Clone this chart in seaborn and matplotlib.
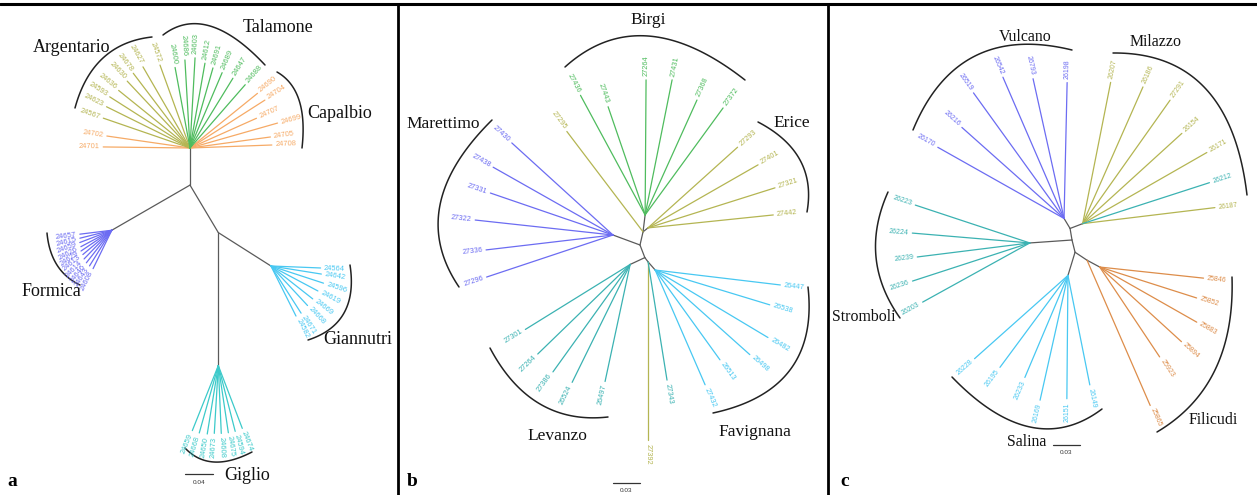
import numpy as np
import pandas as pd
import matplotlib.pyplot as plt
import seaborn as sns

sns.set_theme(style="white")
plt.rcParams["font.family"] = ["Liberation Sans", "DejaVu Sans"]

# ----------------------------------------------------------------------
# Panel a - Tuscan archipelago (branch lengths in substitutions/site)
# ----------------------------------------------------------------------
capalbio_ids = ["24701", "24702", "24690", "24704", "24707", "24699", "24705", "24708"]
capalbio_ang = [179.3, 171.8, 39.0, 32.6, 24.1, 15.9, 7.8, 2.1]
capalbio_len = [0.124, 0.120, 0.124, 0.127, 0.104, 0.130, 0.116, 0.117]

argentario_ids = ["24567", "24623", "24593", "24636", "24630", "24678", "24627", "24572"]
argentario_ang = [161.0, 153.7, 147.5, 141.1, 133.2, 127.2, 120.1, 109.9]
argentario_len = [0.131, 0.133, 0.136, 0.131, 0.131, 0.134, 0.134, 0.126]

talamone_ids = ["24600", "24686", "24603", "24612", "24691", "24689", "24647", "24688"]
talamone_ang = [100.5, 93.3, 86.8, 80.0, 74.0, 66.9, 58.4, 48.9]
talamone_len = [0.117, 0.126, 0.129, 0.123, 0.119, 0.117, 0.117, 0.120]

formica_ids = ["24657", "24615", "24659", "24626", "24629", "24613",
               "24614", "24646", "24643", "24608"]
formica_ang = [187, 194, 201, 208, 214, 220, 226, 232, 238, 244]
formica_len = [0.046, 0.047, 0.049, 0.050, 0.053, 0.054, 0.057, 0.059, 0.060, 0.061]

giannutri_ids = ["24564", "24642", "24596", "24619", "24669", "24668", "24671", "24582"]
giannutri_ang = [-2.3, -9.1, -18.1, -28.0, -38.2, -47.2, -57.4, -63.4]
giannutri_len = [0.071, 0.073, 0.079, 0.076, 0.076, 0.077, 0.080, 0.080]

giglio_ids = ["24659", "24668", "24650", "24673", "24608", "24675", "24594", "24674"]
giglio_ang = [-111.8, -105.8, -99.2, -93.4, -87.5, -81.5, -75.6, -69.1]
giglio_len = [0.100, 0.100, 0.099, 0.097, 0.097, 0.097, 0.097, 0.096]

# internal branches: (node, parent, angle, length)
tree_a_edges = [
    ("a1", "a0", -90.0, 0.053),
    ("formica", "a1", 210.0, 0.129),
    ("a2", "a1", -59.2, 0.079),
    ("giannutri", "a2", -32.4, 0.089),
    ("giglio", "a2", -90.0, 0.190),
]

# ----------------------------------------------------------------------
# Panel b - Egadi islands and western Sicily
# ----------------------------------------------------------------------
birgi_ids = ["27436", "27443", "27264", "27431", "27368", "27372"]
birgi_ang = [118.4, 108.9, 89.6, 78.7, 65.7, 53.9]
birgi_len = [0.151, 0.127, 0.150, 0.153, 0.140, 0.147]

erice_ids = ["27293", "27401", "27321", "27442"]
erice_ang = [42.0, 29.8, 17.5, 5.9]
erice_len = [0.134, 0.141, 0.148, 0.140]

marettimo_ids = ["27430", "27438", "27331", "27322", "27336", "27296"]
marettimo_ang = [137.7, 150.5, 161.1, 173.8, 186.7, 198.4]
marettimo_len = [0.152, 0.153, 0.144, 0.154, 0.142, 0.148]

favignana_ids = ["26447", "26538", "26482", "26498", "26513", "27432"]
favignana_ang = [-6.8, -16.9, -30.9, -41.8, -54.2, -66.5]
favignana_len = [0.140, 0.133, 0.146, 0.141, 0.123, 0.139]

levanzo_ids = ["27301", "27264", "27386", "26524", "26497"]
levanzo_ang = [211.8, 224.1, 234.3, 243.8, 257.9]
levanzo_len = [0.137, 0.143, 0.147, 0.146, 0.133]

# single tips sitting outside their own island cluster
erice_extra_ids = ["27295"]
erice_extra_ang = [127.2]
erice_extra_len = [0.140]
levanzo_extra_ids = ["27343"]
levanzo_extra_ang = [-80.9]
levanzo_extra_len = [0.133]
erice_south_ids = ["27392"]
erice_south_ang = [-90.0]
erice_south_len = [0.198]

tree_b_edges = [
    ("marettimo", "b0", 159.7, 0.032),
    ("bN", "b0", 77.0, 0.015),
    ("birgi", "bN", 83.0, 0.019),
    ("erice", "bN", 38.7, 0.007),
    ("bS", "b0", -69.0, 0.015),
    ("levanzo", "bS", 205.0, 0.018),
    ("bF", "bS", -53.0, 0.006),
    ("favignana", "bF", -48.8, 0.012),
]

# ----------------------------------------------------------------------
# Panel c - Aeolian islands and Milazzo
# ----------------------------------------------------------------------
vulcano_ids = ["26170", "26216", "26519", "26542", "26793", "26198"]
vulcano_ang = [150.6, 138.3, 125.8, 113.4, 102.5, 88.7]
vulcano_len = [0.161, 0.152, 0.172, 0.171, 0.159, 0.151]

milazzo_ids = ["26207", "26186", "27291", "26154", "26171", "26187"]
milazzo_ang = [78.8, 66.2, 54.7, 42.3, 29.8, 6.9]
milazzo_len = [0.160, 0.166, 0.168, 0.149, 0.159, 0.148]

stromboli_ids = ["26223", "26224", "26239", "26236", "26203"]
stromboli_ang = [161.7, 175.2, 187.1, 198.0, 208.9]
stromboli_len = [0.134, 0.131, 0.126, 0.137, 0.136]

salina_ids = ["26228", "26195", "26233", "26169", "26151", "26149"]
salina_ang = [221.7, 233.5, 247.1, 257.4, 269.5, 281.3]
salina_len = [0.139, 0.127, 0.123, 0.142, 0.137, 0.124]

filicudi_ids = ["25846", "25852", "25883", "25894", "25923"]
filicudi_ang = [-6.1, -17.7, -29.6, -42.4, -56.3]
filicudi_len = [0.116, 0.113, 0.124, 0.123, 0.120]

stromboli_extra_ids = ["26212"]
stromboli_extra_ang = [17.9]
stromboli_extra_len = [0.148]
filicudi_extra_ids = ["25865"]
filicudi_extra_ang = [-66.5]
filicudi_extra_len = [0.176]

tree_c_edges = [
    ("cN", "c0", 99.5, 0.013),
    ("vulcano", "cN", 121.0, 0.013),
    ("milazzo", "cN", 21.0, 0.015),
    ("stromboli", "c0", 184.0, 0.047),
    ("cS", "c0", -76.0, 0.014),
    ("salina", "cS", -107.0, 0.027),
    ("cF", "cS", -33.7, 0.016),
    ("filicudi", "cF", -28.3, 0.016),
]

# ----------------------------------------------------------------------
# styling
# ----------------------------------------------------------------------
palette = {
    "olive": "#b4b552",
    "green": "#4fbc5e",
    "peach": "#f6aa66",
    "violet": "#6c6cf2",
    "sky": "#48c8f2",
    "aqua": "#3ccaca",
    "teal": "#3bb2b2",
    "amber": "#dd8d4a",
    "stem": "#5a5a5a",
}

# layout: tree origin in canvas pixels, pixels per substitution/site,
# scale-bar length, tip-label size and island-name size
panels = {
    "a": dict(origin=(190, 148), scale=700.0, bar=0.04, tip_fs=5.4, name_fs=13.0),
    "b": dict(origin=(640, 245), scale=900.0, bar=0.03, tip_fs=5.3, name_fs=12.5),
    "c": dict(origin=(1072, 240), scale=900.0, bar=0.03, tip_fs=5.0, name_fs=11.4),
}

trees = {
    "a": dict(edges=tree_a_edges, clades=[
        ("a0", capalbio_ids, capalbio_ang, capalbio_len, "peach"),
        ("a0", argentario_ids, argentario_ang, argentario_len, "olive"),
        ("a0", talamone_ids, talamone_ang, talamone_len, "green"),
        ("formica", formica_ids, formica_ang, formica_len, "violet"),
        ("giannutri", giannutri_ids, giannutri_ang, giannutri_len, "sky"),
        ("giglio", giglio_ids, giglio_ang, giglio_len, "aqua"),
    ]),
    "b": dict(edges=tree_b_edges, clades=[
        ("birgi", birgi_ids, birgi_ang, birgi_len, "green"),
        ("erice", erice_ids, erice_ang, erice_len, "olive"),
        ("bN", erice_extra_ids, erice_extra_ang, erice_extra_len, "olive"),
        ("marettimo", marettimo_ids, marettimo_ang, marettimo_len, "violet"),
        ("favignana", favignana_ids, favignana_ang, favignana_len, "sky"),
        ("bF", levanzo_extra_ids, levanzo_extra_ang, levanzo_extra_len, "teal"),
        ("bF", erice_south_ids, erice_south_ang, erice_south_len, "olive"),
        ("levanzo", levanzo_ids, levanzo_ang, levanzo_len, "teal"),
    ]),
    "c": dict(edges=tree_c_edges, clades=[
        ("vulcano", vulcano_ids, vulcano_ang, vulcano_len, "violet"),
        ("milazzo", milazzo_ids, milazzo_ang, milazzo_len, "olive"),
        ("milazzo", stromboli_extra_ids, stromboli_extra_ang, stromboli_extra_len, "teal"),
        ("stromboli", stromboli_ids, stromboli_ang, stromboli_len, "teal"),
        ("salina", salina_ids, salina_ang, salina_len, "sky"),
        ("filicudi", filicudi_ids, filicudi_ang, filicudi_len, "amber"),
        ("cF", filicudi_extra_ids, filicudi_extra_ang, filicudi_extra_len, "amber"),
    ]),
}

# island brackets (start, middle, end), panel, and name placement
brackets = {
    "Argentario": ("a", [(75, 108), (103, 58), (152, 37)], (72, 47)),
    "Talamone": ("a", [(163, 35), (210, 26), (265, 65)], (278, 27)),
    "Capalbio": ("a", [(277, 72), (299, 100), (302, 148)], (340, 113)),
    "Formica": ("a", [(47, 233), (57, 265), (80, 285)], (51, 292)),
    "Giannutri": ("a", [(350, 265), (344, 313), (308, 340)], (358, 340)),
    "Giglio": ("a", [(185, 448), (214, 462), (252, 452)], (247, 475)),
    "Birgi": ("b", [(565, 67), (648, 36), (745, 80)], (648, 20)),
    "Marettimo": ("b", [(492, 120), (440, 205), (459, 287)], (443, 124)),
    "Erice": ("b", [(758, 122), (800, 160), (807, 212)], (792, 123)),
    "Favignana": ("b", [(808, 287), (790, 370), (713, 413)], (755, 432)),
    "Levanzo": ("b", [(490, 348), (540, 404), (608, 417)], (557, 436)),
    "Vulcano": ("c", [(913, 130), (975, 56), (1072, 50)], (1025, 37)),
    "Milazzo": ("c", [(1113, 53), (1205, 88), (1247, 195)], (1156, 42)),
    "Stromboli": ("c", [(888, 192), (876, 257), (900, 318)], (864, 317)),
    "Filicudi": ("c", [(1232, 277), (1215, 370), (1157, 432)], (1213, 420)),
    "Salina": ("c", [(952, 377), (1030, 427), (1102, 409)], (1027, 442)),
}
scale_bars = {"a": (185, 474), "b": (613, 483), "c": (1053, 445)}
panel_tags = {"a": (12, 482), "b": (412, 482), "c": (845, 482)}


def step(p, ang, length, scale):
    r = np.deg2rad(ang)
    return (p[0] + length * scale * np.cos(r), p[1] - length * scale * np.sin(r))


rows = []
labels = []
seg = 0
for key, tree in trees.items():
    cfg = panels[key]
    pos = {key + "0": cfg["origin"]}
    for node, parent, ang, ln in tree["edges"]:
        pos[node] = step(pos[parent], ang, ln, cfg["scale"])
        for pt in (pos[parent], pos[node]):
            rows.append(dict(x=pt[0], y=pt[1], seg=seg, col="stem"))
        seg += 1
    for hub, ids, angs, lens, col in tree["clades"]:
        for tid, ang, ln in zip(ids, angs, lens):
            tip = step(pos[hub], ang, ln, cfg["scale"])
            for pt in (pos[hub], tip):
                rows.append(dict(x=pt[0], y=pt[1], seg=seg, col=col))
            seg += 1
            labels.append((tip, ang, tid, col, key))

branches = pd.DataFrame(rows)

fig = plt.figure(figsize=(12.57, 4.95), dpi=100)
ax = fig.add_axes([0, 0, 1, 1])
sns.lineplot(data=branches, x="x", y="y", units="seg", estimator=None,
             hue="col", palette=palette, sort=False, legend=False,
             linewidth=0.9, ax=ax)

for tip, ang, tid, col, key in labels:
    lx, ly = step(tip, ang, 3.5, 1.0)
    a = (ang + 360) % 360
    if 90 < a < 270:
        rot, ha = a - 180, "right"
    else:
        rot, ha = (a if a <= 90 else a - 360), "left"
    ax.text(lx, ly, tid, rotation=rot, rotation_mode="anchor", ha=ha,
            va="center", fontsize=panels[key]["tip_fs"], color=palette[col])

# brackets drawn as quadratic curves through three points
t = np.linspace(0, 1, 60)
serif = ["Liberation Serif", "DejaVu Serif"]
for name, (key, pts, (nx, ny)) in brackets.items():
    p0, pm, p1 = map(np.array, pts)
    ctrl = 2 * pm - (p0 + p1) / 2
    curve = ((1 - t) ** 2)[:, None] * p0 + (2 * (1 - t) * t)[:, None] * ctrl \
        + (t ** 2)[:, None] * p1
    ax.plot(curve[:, 0], curve[:, 1], color="#222222", lw=1.1)
    ax.text(nx, ny, name, ha="center", va="center",
            fontsize=panels[key]["name_fs"], family=serif, color="#111111")

for key, (bx, by) in scale_bars.items():
    length = panels[key]["bar"] * panels[key]["scale"]
    ax.plot([bx, bx + length], [by, by], color="#333333", lw=0.9)
    ax.text(bx + length / 2, by + 8, f"{panels[key]['bar']:.2f}", ha="center",
            va="center", fontsize=4.6, color="#333333")

for key, (tx, ty) in panel_tags.items():
    ax.text(tx, ty, key, ha="center", va="center", fontsize=14, fontweight="bold",
            family=serif, color="black")

# panel frames
ax.plot([0, 1257], [4, 4], color="black", lw=2.2)
for xv in (398, 828):
    ax.plot([xv, xv], [4, 495], color="black", lw=2.0)

ax.set_xlim(0, 1257)
ax.set_ylim(495, 0)
ax.axis("off")
fig.savefig("out.png", dpi=100)
